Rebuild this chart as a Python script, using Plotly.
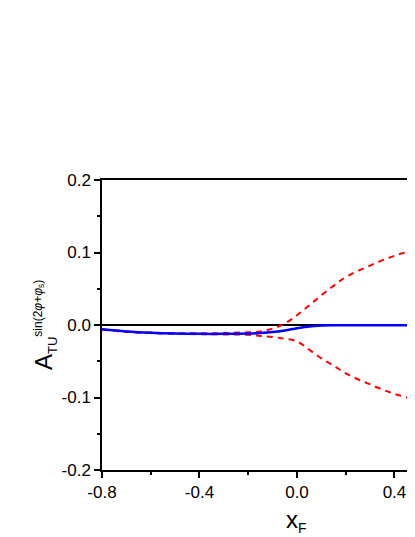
import plotly.graph_objects as go

# x_F grid and asymmetry values
x_f = [-0.8, -0.7, -0.6, -0.5, -0.4, -0.3, -0.2, -0.15, -0.1, -0.05,
       0.0, 0.05, 0.1, 0.15, 0.2, 0.3, 0.4, 0.5]
central = [-0.0060, -0.0090, -0.0108, -0.0118, -0.0122, -0.0122, -0.0117, -0.0110,
           -0.0098, -0.0075, -0.0045, -0.0020, -0.0008, -0.0004, -0.0003,
           -0.0002, -0.0002, -0.0002]
upper = [-0.0060, -0.0088, -0.0105, -0.0113, -0.0115, -0.0112, -0.0100, -0.0090,
         -0.0050, 0.0020, 0.0135, 0.0270, 0.0410, 0.0540, 0.0660, 0.0820,
         0.0955, 0.1050]
lower = [-0.0065, -0.0095, -0.0112, -0.0122, -0.0127, -0.0130, -0.0135, -0.0150,
         -0.0165, -0.0190, -0.0225, -0.0340, -0.0460, -0.0560, -0.0667,
         -0.0820, -0.0950, -0.1040]

# tick labels (plain hyphen minus, like the original)
x_ticks = [-0.8, -0.4, 0.0, 0.4, 0.8]
x_labels = ["-0.8", "-0.4", "0.0", "0.4", "0.8"]
y_ticks = [-0.2, -0.1, 0.0, 0.1, 0.2]
y_labels = ["-0.2", "-0.1", "0.0", "0.1", "0.2"]

FONT = "Arial, Liberation Sans, sans-serif"

fig = go.Figure()

# error band edges (red dashed)
for band in [upper, lower]:
    fig.add_trace(go.Scatter(x=x_f, y=band, mode="lines", line_shape="spline",
                             line=dict(color="#ff0000", width=2, dash="6px,5px"),
                             showlegend=False))

# central curve (blue solid)
fig.add_trace(go.Scatter(x=x_f, y=central, mode="lines", line_shape="spline",
                         line=dict(color="#0000ff", width=2.5),
                         showlegend=False))

# page body has an 8px margin, so the figure sits 8px right/down in the window
fig.update_layout(
    width=415, height=537,
    margin=dict(l=94, r=0, t=172, b=75),
    paper_bgcolor="white", plot_bgcolor="white",
    font=dict(family=FONT, size=17, color="black"),
    xaxis=dict(range=[-0.8, 0.517], tickvals=x_ticks, ticktext=x_labels,
               ticks="outside", ticklen=6, tickwidth=1.5, tickcolor="black",
               minor=dict(dtick=0.2, tick0=-0.8, ticks="outside", ticklen=3,
                          tickwidth=1.5, tickcolor="black"),
               showline=True, linecolor="black", linewidth=1.5, mirror=True,
               showgrid=False, zeroline=False),
    yaxis=dict(range=[-0.2, 0.2], tickvals=y_ticks, ticktext=y_labels,
               ticks="outside", ticklen=6, tickwidth=1.5, tickcolor="black",
               minor=dict(dtick=0.05, ticks="outside", ticklen=3, tickwidth=1.5,
                          tickcolor="black"),
               showline=True, linecolor="black", linewidth=1.5, mirror=False,
               showgrid=False, zeroline=True, zerolinecolor="black",
               zerolinewidth=1.5),
)

# axis titles
fig.add_annotation(
    text="A<sub><span style='font-size:13px'>TU</span></sub>"
         "<sup><span style='font-size:12px'>sin(2<i>φ</i>+<i>φ</i><sub>s</sub>)</span></sup>",
    xref="paper", yref="paper", x=0, y=0.5, xshift=-57,
    xanchor="center", yanchor="middle", textangle=-90,
    showarrow=False, font=dict(family=FONT, size=24, color="black"))

fig.add_annotation(
    text="x<sub><span style='font-size:14px'>F</span></sub>",
    xref="x", yref="paper", x=0.0, y=0, yshift=-34,
    xanchor="center", yanchor="top",
    showarrow=False, font=dict(family=FONT, size=24, color="black"))

fig.write_html("out.html")
